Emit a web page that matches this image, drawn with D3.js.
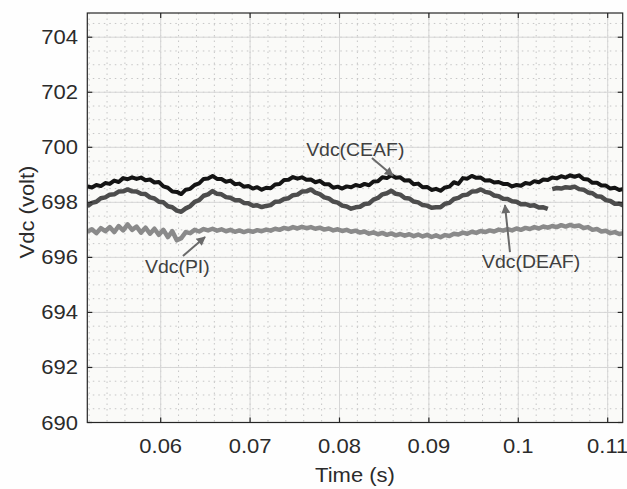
<!DOCTYPE html>
<html><head><meta charset="utf-8">
<script src="https://cdn.jsdelivr.net/npm/d3@7"></script>
<style>
body{margin:0;background:#fff;}
text{font-family:"Liberation Sans",Arial,Helvetica,sans-serif;fill:#2b2b2b;}
</style>
</head><body>
<svg id="c" width="627" height="489"></svg>
<script>
// ---------- data ----------
const tStart = 0.0518, tStep = 0.0005;
const ceafValues = [
698.58,698.54,698.63,698.59,698.70,698.67,698.79,698.74,698.88,698.84,
698.91,698.85,698.90,698.80,698.83,698.72,698.74,698.58,698.53,698.39,
698.38,698.30,698.46,698.49,698.63,698.69,698.85,698.87,698.96,698.85,
698.85,698.75,698.79,698.66,698.68,698.57,698.59,698.50,698.55,698.46,
698.53,698.51,698.65,698.67,698.81,698.82,698.92,698.86,698.91,698.82,
698.83,698.73,698.78,698.66,698.66,698.53,698.57,698.50,698.58,698.55,
698.63,698.59,698.67,698.62,698.76,698.77,698.91,698.88,698.98,698.89,
698.91,698.79,698.80,698.66,698.68,698.55,698.56,698.45,698.49,698.42,
698.54,698.57,698.73,698.67,698.88,698.86,698.96,698.89,698.90,698.79,
698.80,698.72,698.74,698.67,698.67,698.58,698.63,698.60,698.70,698.67,
698.77,698.73,698.83,698.81,698.90,698.87,698.95,698.90,698.98,698.93,
698.98,698.85,698.83,698.71,698.71,698.61,698.61,698.50,698.53,698.45,
698.49];
const deafValues = [
697.86,697.98,698.02,698.15,698.18,698.28,698.29,698.39,698.40,698.47,
698.40,698.39,698.31,698.30,698.18,698.14,698.02,698.00,697.86,697.82,
697.70,697.66,697.78,697.86,698.02,698.08,698.24,698.29,698.41,698.31,
698.29,698.19,698.17,698.08,698.08,697.98,697.97,697.88,697.89,697.83,
697.87,697.90,698.02,698.03,698.12,698.15,698.26,698.28,698.39,698.40,
698.47,698.35,698.30,698.18,698.14,698.03,697.99,697.88,697.85,697.77,
697.82,697.84,697.94,697.96,698.10,698.16,698.29,698.33,698.42,698.31,
698.28,698.16,698.14,698.03,698.00,697.90,697.88,697.80,697.82,697.82,
697.95,697.98,698.12,698.16,698.26,698.28,698.39,698.40,698.47,698.38,
698.35,698.25,698.22,698.13,698.12,698.04,698.02,697.93,697.94,697.88,
697.89,697.81,697.82,697.76,698.48,698.52,698.50,698.55,698.53,698.57,
698.48,698.46,698.36,698.33,698.22,698.20,698.08,698.05,697.95,697.95,
697.88];
const piValues = [
696.93,697.02,696.88,697.06,696.95,697.10,696.92,697.14,696.98,697.20,
697.00,697.12,696.90,697.08,696.86,697.04,696.82,697.00,696.74,696.95,
696.62,696.70,696.92,696.88,697.00,696.94,697.03,696.98,697.04,696.97,
697.02,696.95,697.00,696.93,696.98,696.92,696.97,696.93,696.99,696.95,
697.01,696.97,697.04,697.00,697.07,697.03,697.10,697.05,697.11,697.06,
697.10,697.04,697.08,697.01,697.05,696.98,697.02,696.96,697.00,696.93,
696.97,696.90,696.94,696.86,696.91,696.84,696.89,696.82,696.87,696.80,
696.85,696.79,696.84,696.77,696.83,696.76,696.82,696.74,696.80,696.73,
696.81,696.78,696.86,696.83,696.90,696.86,696.93,696.89,696.96,696.92,
696.98,696.94,697.01,696.97,697.03,696.98,697.05,697.00,697.07,697.03,
697.10,697.05,697.12,697.08,697.14,697.10,697.17,697.12,697.18,697.13,
697.16,697.07,697.10,697.00,697.03,696.94,696.97,696.88,696.92,696.85,
696.88];
const xTicks = [0.06,0.07,0.08,0.09,0.10,0.11];
const xTickLabels = ["0.06","0.07","0.08","0.09","0.1","0.11"];
const yTicks = [690,692,694,696,698,700,702,704];
const yTickLabels = ["690","692","694","696","698","700","702","704"];
const seriesNames = ["Vdc(CEAF)","Vdc(DEAF)","Vdc(PI)"];
const xTitle = "Time (s)";
const yTitle = "Vdc (volt)";

// ---------- layout ----------
const svg = d3.select("#c");
const L = 87.3, R = 622.7, T = 13, B = 422.5;
const x = d3.scaleLinear().domain([0.05179, 0.11168]).range([L, R]);
const y = d3.scaleLinear().domain([690, 704.88]).range([B, T]);

svg.append("rect").attr("x",0).attr("y",0).attr("width",627).attr("height",489).attr("fill","#fefefe");
svg.append("rect").attr("x",L).attr("y",T).attr("width",R-L).attr("height",B-T).attr("fill","#fafaf8");

svg.append("defs").append("clipPath").attr("id","clip")
  .append("rect").attr("x",L).attr("y",T).attr("width",R-L).attr("height",B-T);

// minor grid (dotted)
const xMinor = d3.range(26, 56).map(k => k * 0.002);
const yMinor = d3.range(0, 30).map(k => 690 + k * 0.5);
const g = svg.append("g");
g.selectAll(".mx").data(xMinor).join("line")
  .attr("x1", d => x(d)).attr("x2", d => x(d)).attr("y1", T).attr("y2", B)
  .attr("stroke", "#c6c6c6").attr("stroke-width", 1).attr("stroke-dasharray", "1.5,4");
g.selectAll(".my").data(yMinor).join("line")
  .attr("y1", d => y(d)).attr("y2", d => y(d)).attr("x1", L).attr("x2", R)
  .attr("stroke", "#c6c6c6").attr("stroke-width", 1).attr("stroke-dasharray", "1.5,4");
// major grid
g.selectAll(".gx").data(xTicks).join("line")
  .attr("x1", d => x(d)).attr("x2", d => x(d)).attr("y1", T).attr("y2", B)
  .attr("stroke", "#d6d6d6").attr("stroke-width", 1);
g.selectAll(".gy").data(yTicks).join("line")
  .attr("y1", d => y(d)).attr("y2", d => y(d)).attr("x1", L).attr("x2", R)
  .attr("stroke", "#d6d6d6").attr("stroke-width", 1);

// series
const times = ceafValues.map((_, i) => tStart + i * tStep);
const plot = svg.append("g").attr("clip-path", "url(#clip)");
const series = [
  {v: piValues, c: "#8a8a8a", w: 4.5},
  {v: deafValues, c: "#4d4d4d", w: 4.5},
  {v: ceafValues, c: "#141414", w: 4}
];
series.forEach(s => {
  // break the trace where the recorded signal jumps (gap in the original trace)
  const pts = s.v.map((v, i) => ({t: times[i], v: v, brk: i > 0 && Math.abs(v - s.v[i-1]) > 0.4}));
  const segs = [[]];
  pts.forEach(p => { if (p.brk) segs.push([]); segs[segs.length-1].push(p); });
  const line = d3.line().x(p => x(p.t)).y(p => y(p.v));
  segs.forEach(seg => {
    plot.append("path").datum(seg).attr("d", line)
      .attr("fill", "none").attr("stroke", s.c).attr("stroke-width", s.w)
      .attr("stroke-linejoin", "round");
  });
});

// box + ticks
svg.append("rect").attr("x",L).attr("y",T).attr("width",R-L).attr("height",B-T)
  .attr("fill","none").attr("stroke","#262626").attr("stroke-width",1.2);
const tl = 5;
xTicks.forEach(t => {
  svg.append("line").attr("x1",x(t)).attr("x2",x(t)).attr("y1",B).attr("y2",B-tl).attr("stroke","#262626").attr("stroke-width",1.2);
  svg.append("line").attr("x1",x(t)).attr("x2",x(t)).attr("y1",T).attr("y2",T+tl).attr("stroke","#262626").attr("stroke-width",1.2);
});
yTicks.forEach(v => {
  svg.append("line").attr("x1",L).attr("x2",L+tl).attr("y1",y(v)).attr("y2",y(v)).attr("stroke","#262626").attr("stroke-width",1.2);
  svg.append("line").attr("x1",R).attr("x2",R-tl).attr("y1",y(v)).attr("y2",y(v)).attr("stroke","#262626").attr("stroke-width",1.2);
});

function stretchText(px, py, str, size, anchor, sx, rot) {
  const gg = svg.append("g").attr("transform",
    `translate(${px},${py})` + (rot ? ` rotate(${rot})` : "") + ` scale(${sx},1)`);
  gg.append("text").attr("x",0).attr("y",0).attr("font-size",size)
    .attr("text-anchor",anchor).text(str);
  return gg;
}

xTicks.forEach((t, i) => stretchText(x(t), 453, xTickLabels[i], 20, "middle", 1.1));
yTicks.forEach((v, i) => stretchText(78, y(v) + 7, yTickLabels[i], 20, "end", 1.1));
stretchText((L + R) / 2, 482, xTitle, 20, "middle", 1.1);
stretchText(34, 212, yTitle, 20, "middle", 1.1, -90);

// annotations
const defs = svg.select("defs");
defs.append("marker").attr("id","ah").attr("viewBox","0 0 10 10").attr("refX",9).attr("refY",5)
  .attr("markerWidth",5).attr("markerHeight",4.5).attr("orient","auto").attr("markerUnits","strokeWidth")
  .append("path").attr("d","M0,0 L10,5 L0,10 Z").attr("fill","#6a6a6a");
const arrows = [
  [0.08363, 699.61, 0.08598, 698.97],
  [0.06249, 696.05, 0.06496, 696.74],
  [0.09907, 696.19, 0.09851, 697.90]
];
arrows.forEach(a => {
  svg.append("line").attr("x1",x(a[0])).attr("y1",y(a[1])).attr("x2",x(a[2])).attr("y2",y(a[3]))
    .attr("stroke","#6a6a6a").attr("stroke-width",2).attr("marker-end","url(#ah)");
});
const labelPos = [[0.07627, 699.68],[0.09594, 695.61],[0.05824, 695.45]];
seriesNames.forEach((n, i) => {
  const gg = stretchText(x(labelPos[i][0]), y(labelPos[i][1]), n, 18, "start", 1.08);
  gg.select("text").style("fill", "#404040");
});
</script>
</body></html>
